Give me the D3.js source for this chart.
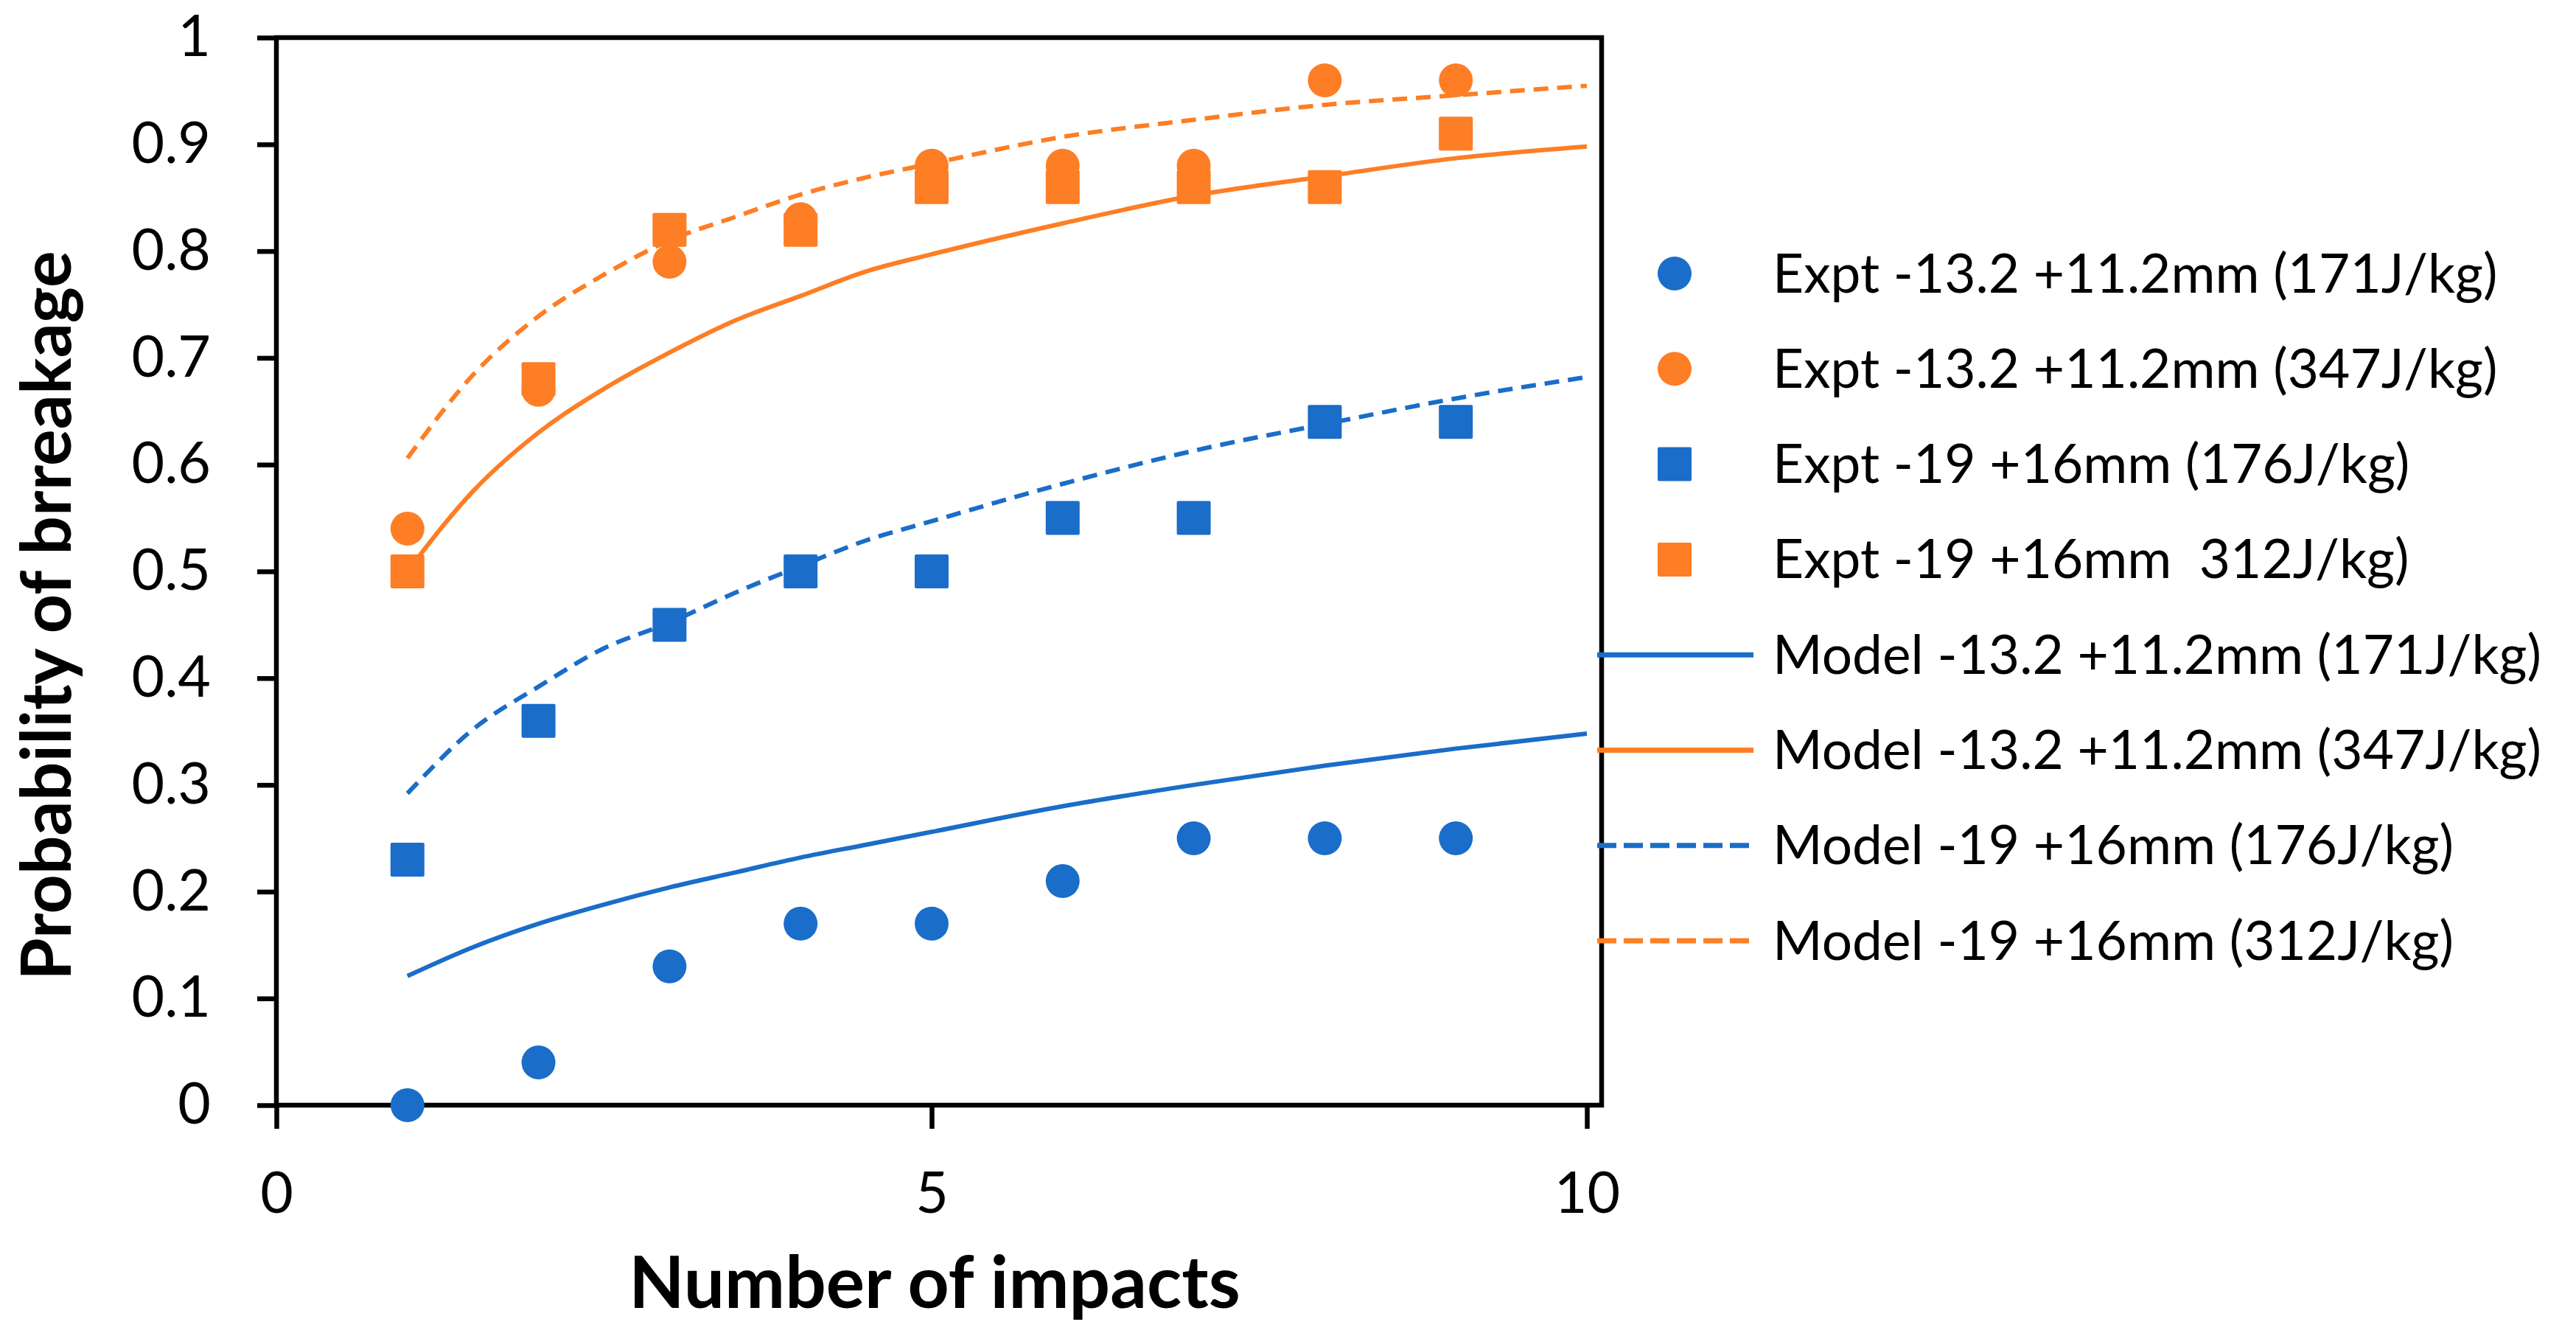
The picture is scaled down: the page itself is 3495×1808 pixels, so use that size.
<!DOCTYPE html>
<html>
<head>
<meta charset="utf-8">
<script src="https://cdn.jsdelivr.net/npm/d3@7"></script>
<style>
  html, body { margin: 0; padding: 0; background: #fff; }
  svg { display: block; }
</style>
</head>
<body>
<div id="chart"></div>
<script>
(function () {
  "use strict";

  // experimental points, one value per impact number
  var impacts  = [1, 2, 3, 4, 5, 6, 7, 8, 9];
  var expt171  = [0.00, 0.04, 0.13, 0.17, 0.17, 0.21, 0.25, 0.25, 0.25];
  var expt347  = [0.54, 0.67, 0.79, 0.83, 0.88, 0.88, 0.88, 0.96, 0.96];
  var expt176  = [0.23, 0.36, 0.45, 0.50, 0.50, 0.55, 0.55, 0.64, 0.64];
  var expt312  = [0.50, 0.68, 0.82, 0.82, 0.86, 0.86, 0.86, 0.86, 0.91];

  // model curves
  var modelX   = [1, 1.5, 2, 2.5, 3, 3.5, 4, 4.5, 5, 6, 7, 8, 9, 10];
  var model171 = [0.121, 0.148, 0.170, 0.188, 0.204, 0.218, 0.232, 0.244, 0.256, 0.280, 0.300, 0.318, 0.334, 0.348];
  var model347 = [0.500, 0.575, 0.630, 0.671, 0.705, 0.735, 0.758, 0.781, 0.797, 0.826, 0.852, 0.870, 0.887, 0.898];
  var model176 = [0.292, 0.352, 0.392, 0.428, 0.452, 0.480, 0.505, 0.529, 0.547, 0.582, 0.613, 0.638, 0.662, 0.682];
  var model312 = [0.606, 0.684, 0.739, 0.778, 0.810, 0.832, 0.853, 0.869, 0.882, 0.907, 0.923, 0.937, 0.946, 0.955];

  var yTicks = [0, 0.1, 0.2, 0.3, 0.4, 0.5, 0.6, 0.7, 0.8, 0.9, 1];
  var xTicks = [0, 5, 10];

  var legendLabels = [
    "Expt -13.2 +11.2mm (171J/kg)",
    "Expt -13.2 +11.2mm (347J/kg)",
    "Expt -19 +16mm (176J/kg)",
    "Expt -19 +16mm  312J/kg)",
    "Model -13.2 +11.2mm (171J/kg)",
    "Model -13.2 +11.2mm (347J/kg)",
    "Model -19 +16mm (176J/kg)",
    "Model -19 +16mm (312J/kg)"
  ];

  var BLUE   = "#1a6dc8";
  var ORANGE = "#fd7e25";
  var FONT   = "Lato, 'Open Sans', sans-serif";

  var points = [
    { vals: expt171, color: BLUE,   shape: "circle" },
    { vals: expt347, color: ORANGE, shape: "circle" },
    { vals: expt176, color: BLUE,   shape: "square" },
    { vals: expt312, color: ORANGE, shape: "square" }
  ];
  var curves = [
    { vals: model171, color: BLUE,   dash: null },
    { vals: model347, color: ORANGE, dash: null },
    { vals: model176, color: BLUE,   dash: "20,12" },
    { vals: model312, color: ORANGE, dash: "20,12" }
  ];

  var W = 3495, H = 1808;
  var margin = { left: 375, top: 51 };
  var plotW = 1778, plotH = 1448, boxW = 1798;
  var R = 23, SQ = 46, AXW = 6.5;

  var svg = d3.select("#chart").append("svg")
    .attr("width", W).attr("height", H)
    .style("font-family", FONT)
    .style("background", "#fff");

  var g = svg.append("g")
    .attr("transform", "translate(" + margin.left + "," + margin.top + ")");

  var x = d3.scaleLinear().domain([0, 10]).range([0, plotW]);
  var y = d3.scaleLinear().domain([0, 1]).range([plotH, 0]);

  // y axis ticks + labels
  g.append("g")
    .call(d3.axisLeft(y).tickValues(yTicks).tickSize(26).tickSizeOuter(0)
      .tickPadding(63).tickFormat(d3.format("~g")))
    .call(function (a) {
      a.select(".domain").remove();
      a.selectAll(".tick line").attr("stroke", "#000").attr("stroke-width", AXW);
      a.selectAll(".tick text").attr("fill", "#000").attr("font-size", "77px")
        .attr("font-family", FONT);
    });

  // x axis ticks + labels
  g.append("g")
    .attr("transform", "translate(0," + plotH + ")")
    .call(d3.axisBottom(x).tickValues(xTicks).tickSize(32).tickSizeOuter(0)
      .tickPadding(59))
    .call(function (a) {
      a.select(".domain").remove();
      a.selectAll(".tick line").attr("stroke", "#000").attr("stroke-width", AXW);
      a.selectAll(".tick text").attr("fill", "#000").attr("font-size", "77px")
        .attr("font-family", FONT);
    });

  // plot frame
  g.append("rect")
    .attr("x", 0).attr("y", 0)
    .attr("width", boxW).attr("height", plotH)
    .attr("fill", "none").attr("stroke", "#000").attr("stroke-width", AXW);

  // markers
  points.forEach(function (s) {
    var data = impacts.map(function (v, i) { return [v, s.vals[i]]; });
    if (s.shape === "circle") {
      g.append("g").selectAll("circle").data(data).enter().append("circle")
        .attr("cx", function (d) { return x(d[0]); })
        .attr("cy", function (d) { return y(d[1]); })
        .attr("r", R).attr("fill", s.color);
    } else {
      g.append("g").selectAll("rect").data(data).enter().append("rect")
        .attr("x", function (d) { return x(d[0]) - SQ / 2; })
        .attr("y", function (d) { return y(d[1]) - SQ / 2; })
        .attr("width", SQ).attr("height", SQ)
        .attr("rx", 2).attr("fill", s.color);
    }
  });

  // model lines
  var line = d3.line()
    .x(function (d) { return x(d[0]); })
    .y(function (d) { return y(d[1]); })
    .curve(d3.curveMonotoneX);

  curves.forEach(function (c) {
    var data = modelX.map(function (v, i) { return [v, c.vals[i]]; });
    g.append("path")
      .datum(data)
      .attr("d", line)
      .attr("fill", "none")
      .attr("stroke", c.color)
      .attr("stroke-width", 6)
      .attr("stroke-dasharray", c.dash);
  });

  // axis titles
  svg.append("text")
    .attr("transform", "translate(96,835) rotate(-90)")
    .attr("text-anchor", "middle")
    .attr("font-size", "93px")
    .attr("font-weight", "bold")
    .attr("fill", "#000")
    .text("Probability of brreakage");

  svg.append("text")
    .attr("x", 1268).attr("y", 1774)
    .attr("text-anchor", "middle")
    .attr("font-size", "98px")
    .attr("font-weight", "bold")
    .attr("fill", "#000")
    .text("Number of impacts");

  // legend
  var legend = svg.append("g");
  var legendItems = points.concat(curves);
  legendItems.forEach(function (item, i) {
    var ly = 371 + i * 129.3;
    var row = legend.append("g");
    if (item.shape === "circle") {
      row.append("circle").attr("cx", 2272).attr("cy", ly).attr("r", R).attr("fill", item.color);
    } else if (item.shape === "square") {
      row.append("rect").attr("x", 2272 - SQ / 2).attr("y", ly - SQ / 2)
        .attr("width", SQ).attr("height", SQ).attr("rx", 2).attr("fill", item.color);
    } else {
      row.append("line").attr("x1", 2167).attr("x2", 2379).attr("y1", ly).attr("y2", ly)
        .attr("stroke", item.color)
        .attr("stroke-width", 7)
        .attr("stroke-dasharray", item.dash ? "26,10" : null);
    }
    row.append("text")
      .attr("x", 2405).attr("y", ly)
      .attr("dy", "0.35em")
      .attr("font-size", "73px")
      .attr("fill", "#000")
      .style("white-space", "pre")
      .text(legendLabels[i]);
  });
}());
</script>
</body>
</html>
